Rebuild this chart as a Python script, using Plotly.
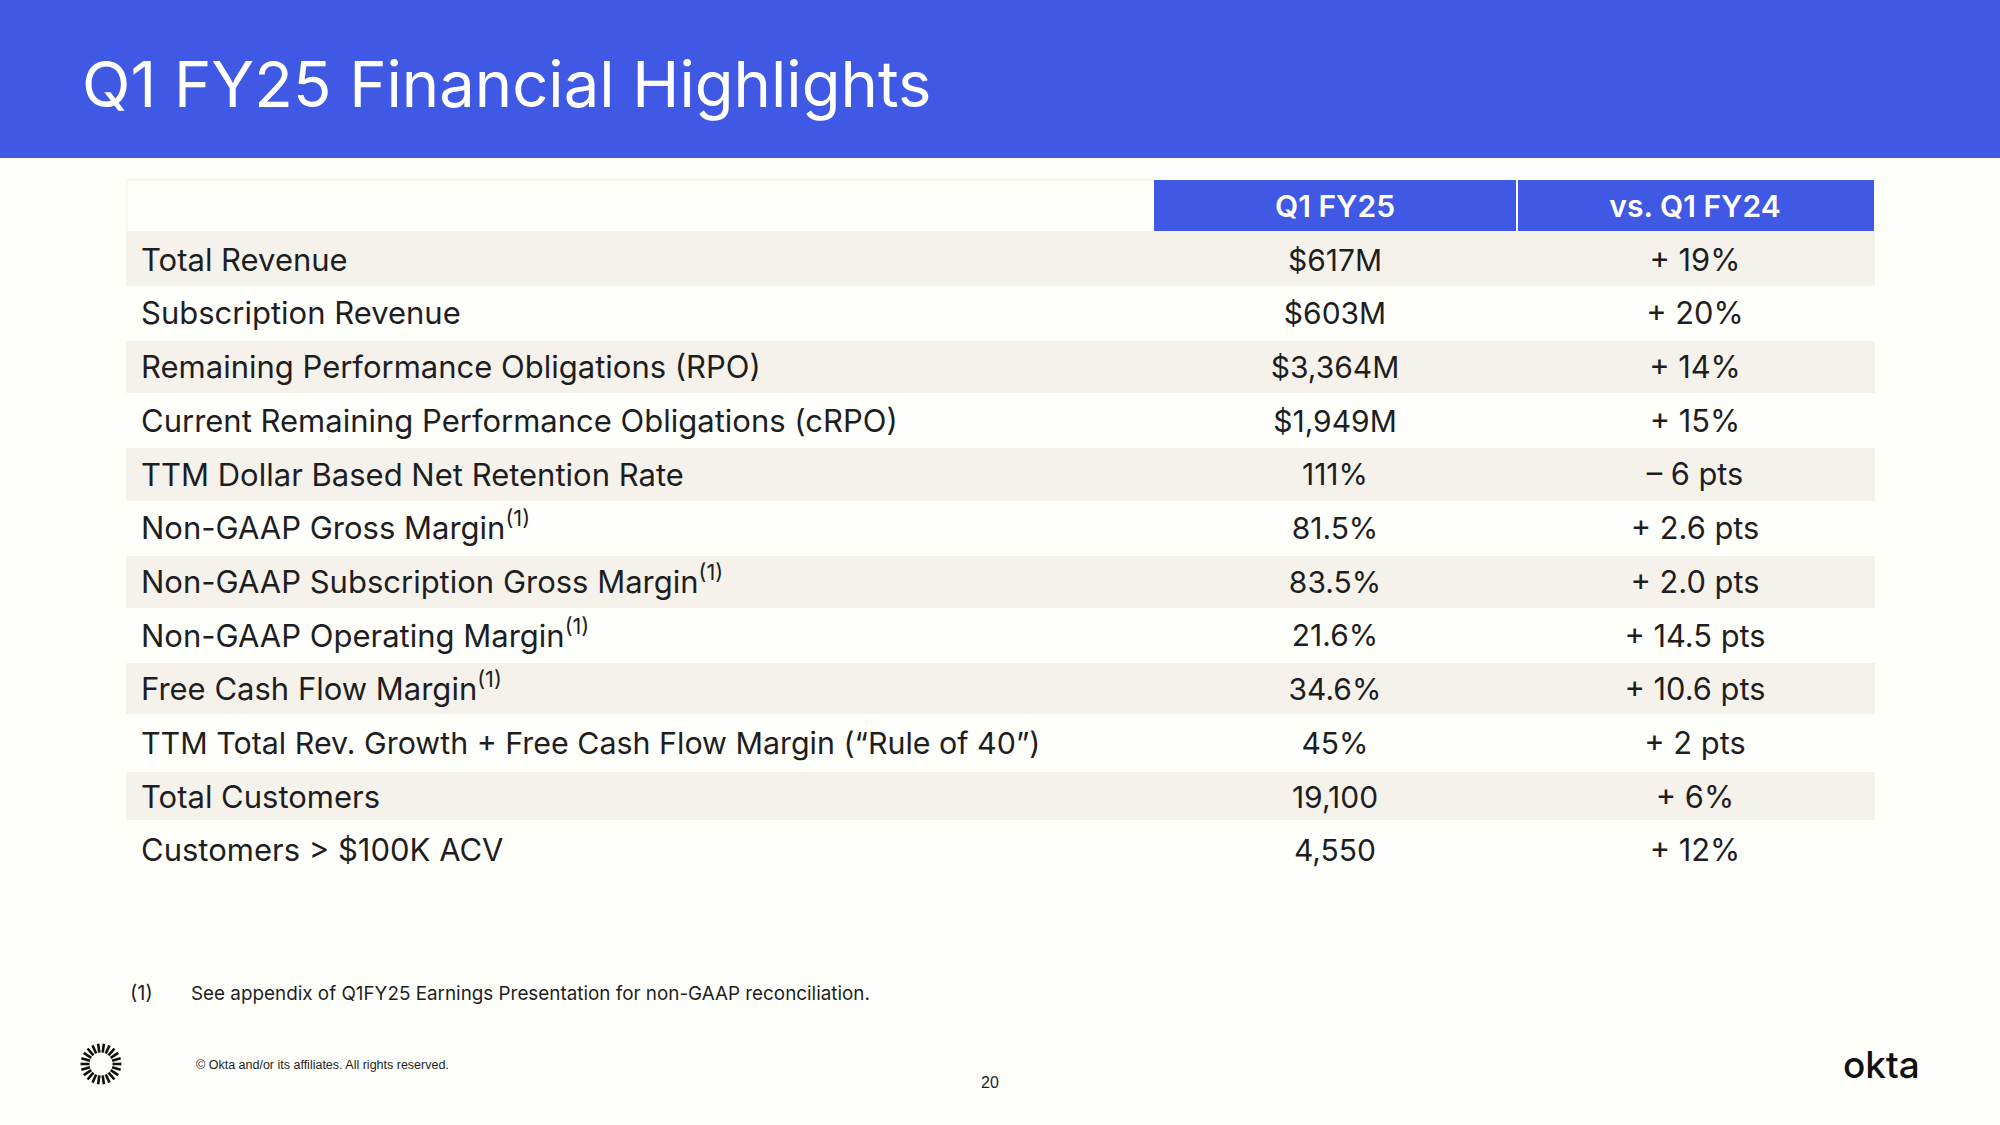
import math

import plotly.graph_objects as go

# table content
metrics = [
    "Total Revenue",
    "Subscription Revenue",
    "Remaining Performance Obligations (RPO)",
    "Current Remaining Performance Obligations (cRPO)",
    "TTM Dollar Based Net Retention Rate",
    "Non-GAAP Gross Margin<sup>(1)</sup>",
    "Non-GAAP Subscription Gross Margin<sup>(1)</sup>",
    "Non-GAAP Operating Margin<sup>(1)</sup>",
    "Free Cash Flow Margin<sup>(1)</sup>",
    "TTM Total Rev. Growth + Free Cash Flow Margin (“Rule of 40”)",
    "Total Customers",
    "Customers > $100K ACV",
]
q1_fy25 = ["$617M", "$603M", "$3,364M", "$1,949M", "111%", "81.5%", "83.5%", "21.6%",
           "34.6%", "45%", "19,100", "4,550"]
vs_q1_fy24 = ["+ 19%", "+ 20%", "+ 14%", "+ 15%", "– 6 pts", "+ 2.6 pts", "+ 2.0 pts",
              "+ 14.5 pts", "+ 10.6 pts", "+ 2 pts", "+ 6%", "+ 12%"]
header_labels = ["Q1 FY25", "vs. Q1 FY24"]

title_text = "Q1 FY25 Financial Highlights"
footnote_mark = "(1)"
footnote_text = "See appendix of Q1FY25 Earnings Presentation for non-GAAP reconciliation."
copyright_text = "© Okta and/or its affiliates. All rights reserved."
page_number = "20"
logo_text = "okta"

BLUE = "#3f59e4"
BAND = "#f5f2eb"
BG = "#fefefb"
INK = "#1e1e22"
FONT = "Inter"
W, H = 2000, 1125

# text rows are evenly spaced, the stripes behind them are not quite
ROW_TOP = 263
ROW_STEP = 53.7
band_edges = [(231, 286), (341, 393), (448, 501), (556, 608), (663, 714), (772, 820)]
col_metric, col_q1, col_vs = 141, 1335, 1695


def px_x(v):
    return v / W


def px_y(v):
    return 1 - v / H


def rect(x0, y0, x1, y1, color):
    return dict(type="rect", xref="paper", yref="paper", layer="below",
                x0=px_x(x0), x1=px_x(x1), y0=px_y(y1), y1=px_y(y0),
                fillcolor=color, line_width=0)


def label(x, y, text, size, family=FONT, color=INK, anchor="left", weight=400):
    return dict(xref="paper", yref="paper", x=px_x(x), y=px_y(y), text=text, showarrow=False,
                xanchor=anchor, yanchor="middle", align=anchor,
                font=dict(family=family, size=size, color=color, weight=weight))


def column(x, text, position, size):
    return go.Scatter(x=[x] * len(text), y=list(range(len(text))), text=text, mode="text",
                      textposition=position, cliponaxis=False, hoverinfo="skip",
                      textfont=dict(family=FONT, size=size, color=INK))


shapes = [rect(0, 0, W, 158, BLUE), rect(1154, 180, 1516, 231, BLUE), rect(1518, 180, 1874, 231, BLUE)]
shapes += [rect(126, y0, 1875, y1, BAND) for y0, y1 in band_edges]
# faint outline around the empty header cell
shapes.append(rect(126, 179, 1154, 180.5, BAND))
shapes.append(rect(126, 179, 127.5, 231, BAND))

# sunburst mark next to the copyright line
for i in range(22):
    a = 2 * math.pi * i / 22
    shapes.append(dict(type="line", xref="paper", yref="paper", layer="below",
                       x0=px_x(101 + 11.5 * math.cos(a)), y0=px_y(1064 + 11.5 * math.sin(a)),
                       x1=px_x(101 + 20.5 * math.cos(a)), y1=px_y(1064 + 20.5 * math.sin(a)),
                       line=dict(color="#111111", width=2.6)))

# the long Rule of 40 row runs wide in this font, so it gets a slightly smaller size
metric_sizes = [30.4 if "Rule of 40" in m else 31 for m in metrics]

fig = go.Figure([
    column(col_metric, metrics, "middle right", metric_sizes),
    column(col_q1, q1_fy25, "middle center", 30),
    column(col_vs, vs_q1_fy24, "middle center", 30.8),
    go.Scatter(x=[col_q1, col_vs], y=[-1, -1], text=header_labels, mode="text",
               textposition="middle center", cliponaxis=False, hoverinfo="skip",
               textfont=dict(family=FONT, size=30, color="white", weight=600)),
])

fig.update_layout(
    width=W,
    height=H,
    margin=dict(l=0, r=0, t=0, b=0),
    paper_bgcolor=BG,
    plot_bgcolor="rgba(0,0,0,0)",
    showlegend=False,
    xaxis=dict(range=[0, W], visible=False),
    # row index axis, reversed, scaled so that row 0 lands on ROW_TOP
    yaxis=dict(range=[(H - ROW_TOP) / ROW_STEP, -ROW_TOP / ROW_STEP], visible=False),
    shapes=shapes,
    annotations=[
        label(80, 84, title_text, 63.3, color="white"),
        label(128, 993, footnote_mark, 20),
        label(189, 993, footnote_text, 18.85),
        label(194, 1065, copyright_text, 12.5, family="Liberation Sans"),
        label(990, 1082, page_number, 16, family="Liberation Sans", anchor="center"),
        label(1881, 1064, logo_text, 37, color="#111111", anchor="center", weight=500),
    ],
)

fig.write_html("out.html", config=dict(displayModeBar=False),
               post_script="document.body.style.margin='0';")
